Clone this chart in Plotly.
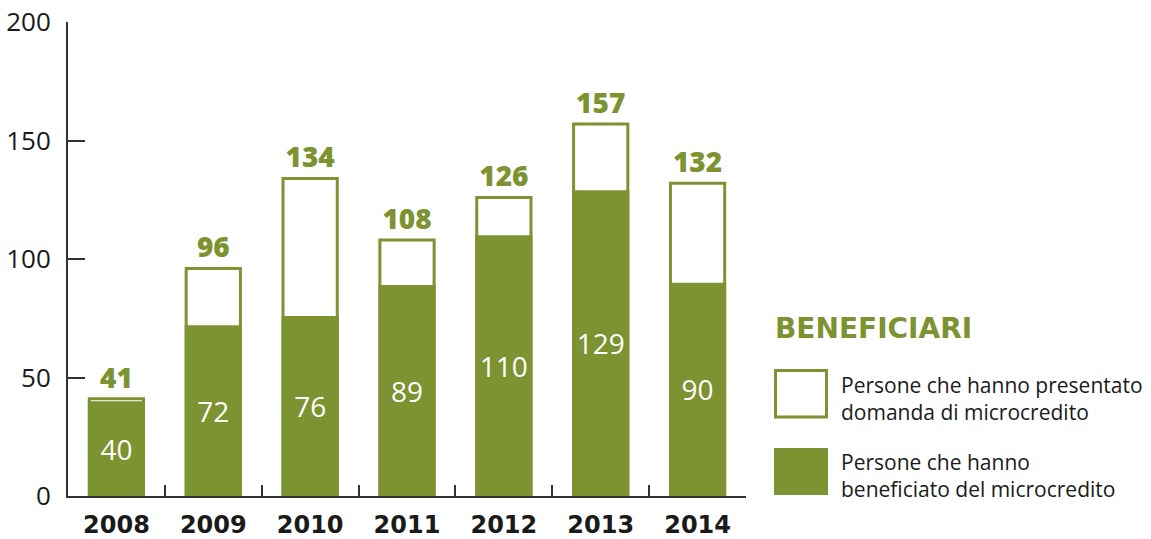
import plotly.graph_objects as go

years = ["2008", "2009", "2010", "2011", "2012", "2013", "2014"]
applicants = [41, 96, 134, 108, 126, 157, 132]
beneficiaries = [40, 72, 76, 89, 110, 129, 90]
y_ticks = [0, 50, 100, 150, 200]

GREEN = "#7d9230"
DARK = "#1a1a1a"
FONT = "Open Sans"
WIDE = "DejaVu Sans"

W, H = 1151, 539
L, R, T, B = 68, 405, 22, 43
PW, PH = W - L - R, H - T - B


def px(x):
    return (x - L) / PW


def py(y):
    return 1 - (y - T) / PH


fig = go.Figure()
fig.add_trace(go.Bar(
    x=years, y=applicants, width=0.56,
    marker=dict(color="white", line=dict(color=GREEN, width=3)),
    text=[str(v) for v in applicants], textposition="outside",
    textfont=dict(family=FONT, size=28, color=GREEN, weight=800),
    constraintext="none", cliponaxis=False, showlegend=False,
    name="Persone che hanno presentato domanda di microcredito",
))
fig.add_trace(go.Bar(
    x=years, y=beneficiaries, width=0.59,
    marker=dict(color=GREEN, line=dict(width=0)),
    text=[str(v) for v in beneficiaries], textposition="inside",
    insidetextanchor="middle", textangle=0,
    textfont=dict(family=FONT, size=28, color="white"),
    constraintext="none", showlegend=False,
    name="Persone che hanno beneficiato del microcredito",
))

shapes = [
    dict(type="rect", xref="paper", yref="paper",
         x0=px(775.5), x1=px(826.5), y0=py(417), y1=py(370.5),
         line=dict(color=GREEN, width=3), fillcolor="white"),
    dict(type="rect", xref="paper", yref="paper",
         x0=px(774), x1=px(828), y0=py(495), y1=py(448),
         line=dict(width=0), fillcolor=GREEN),
]
annotations = [
    dict(xref="paper", yref="paper", x=px(773), y=py(328), xanchor="left", yanchor="middle",
         text="<b>BENEFICIARI</b>", showarrow=False,
         font=dict(family=WIDE, size=28, color=GREEN)),
    dict(xref="paper", yref="paper", x=px(839), y=py(398), xanchor="left", yanchor="middle",
         text="Persone che hanno presentato<br>domanda di microcredito", showarrow=False, align="left",
         font=dict(family=FONT, size=21, color=DARK)),
    dict(xref="paper", yref="paper", x=px(839), y=py(475), xanchor="left", yanchor="middle",
         text="Persone che hanno<br>beneficiato del microcredito", showarrow=False, align="left",
         font=dict(family=FONT, size=21, color=DARK)),
]

fig.update_layout(
    width=W, height=H, barmode="overlay",
    margin=dict(l=L, r=R, t=T, b=B, pad=0, autoexpand=False),
    paper_bgcolor="white", plot_bgcolor="white",
    font=dict(family=FONT, color=DARK),
    shapes=shapes, annotations=annotations,
    xaxis=dict(
        type="category", range=[-0.5, 6.5], showgrid=False, zeroline=False,
        showline=True, linecolor="#333", linewidth=2, automargin=False,
        ticks="inside", ticklen=11, tickwidth=2, tickcolor="#333",
        tickson="boundaries",
        tickfont=dict(family=WIDE, size=24, color=DARK, weight="bold"),
        ticklabelstandoff=6,
    ),
    yaxis=dict(
        range=[0, 200], tickvals=y_ticks, showgrid=False, zeroline=False,
        showline=True, linecolor="#333", linewidth=2, automargin=False,
        ticks="inside", ticklen=17, tickwidth=2, tickcolor="#333",
        tickfont=dict(family=FONT, size=26, color=DARK),
        ticklabelstandoff=10,
    ),
)

fig.write_html("out.html")
